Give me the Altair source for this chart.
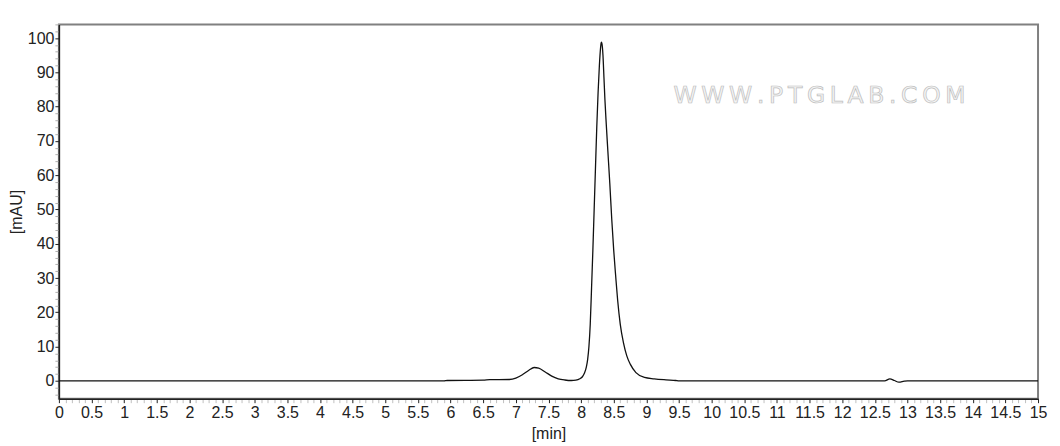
import altair as alt
import pandas as pd

# Retention time (min) and absorbance (mAU)
time_min = [0.0, 2.0, 4.0, 5.9, 5.95, 6.5, 6.6, 6.9, 7.0, 7.1, 7.2, 7.28, 7.35, 7.45,
            7.55, 7.65, 7.75, 7.85, 7.92, 7.98, 8.02, 8.05, 8.08, 8.1, 8.12, 8.14,
            8.16, 8.18, 8.2, 8.22, 8.24, 8.26, 8.28, 8.3, 8.31, 8.32, 8.335, 8.35,
            8.365, 8.385, 8.41, 8.44, 8.47, 8.5, 8.53, 8.56, 8.6, 8.65, 8.7, 8.755,
            8.84, 8.97, 9.12, 9.3, 9.45, 9.5, 11.0, 12.65, 12.73, 12.8, 12.87, 12.95,
            13.0, 14.0, 15.0]
absorb_mau = [0.0, 0.0, 0.0, 0.0, 0.1, 0.2, 0.35, 0.4, 0.8, 1.8, 3.1, 3.9, 3.7, 2.6,
              1.4, 0.6, 0.25, 0.1, 0.2, 0.6, 1.2, 2.2, 4.0, 6.2, 10.0, 16.5,
              27.0, 38.0, 50.0, 62.0, 74.0, 84.0, 92.0, 97.5, 98.8, 98.3, 95.0, 88.5,
              82.0, 75.0, 67.0, 57.5, 47.0, 38.0, 30.5, 23.5, 16.5, 11.0, 7.3, 4.8,
              2.4, 1.0, 0.6, 0.3, 0.1, 0.0, 0.0, 0.0, 0.6, 0.1, -0.4, -0.1,
              0.0, 0.0, 0.0]

x_ticks = [round(i * 0.1, 1) for i in range(0, 151)]
y_ticks = list(range(-4, 105, 2))
x_title = "[min]"
y_title = "[mAU]"
watermark = "WWW.PTGLAB.COM"

df = pd.DataFrame({"t": time_min, "v": absorb_mau})
FONT = "Liberation Sans"

x_axis = alt.Axis(
    values=x_ticks,
    labelExpr="abs(datum.value*2 - round(datum.value*2)) < 0.001 ? format(datum.value, '~g') : ''",
    tickColor={"condition": {"test": "abs(datum.value*2 - round(datum.value*2)) < 0.001", "value": "#222222"}, "value": "#c0c0c0"},
    tickSize=4, tickWidth=1, labelPadding=2,
    labelFont=FONT, labelFontSize=16, labelColor="#222222",
    titleFont=FONT, titleFontSize=16, titleFontWeight="normal", titleColor="#222222",
    titlePadding=5, domainColor="#222222", domainWidth=1.5, grid=False,
    labelOverlap=False, labelFlush=False, labelBound=False,
)
y_axis = alt.Axis(
    values=y_ticks,
    labelExpr="datum.value % 10 == 0 && datum.value >= 0 && datum.value <= 100 ? format(datum.value, 'd') : ''",
    tickColor={"condition": {"test": "datum.value % 10 == 0", "value": "#222222"}, "value": "#b0b0b0"},
    tickSize=4, tickWidth=1, labelPadding=1,
    labelFont=FONT, labelFontSize=16, labelColor="#222222",
    titleFont=FONT, titleFontSize=16, titleFontWeight="normal", titleColor="#222222",
    titlePadding=3, domainColor="#222222", domainWidth=1.5, grid=False,
    labelOverlap=False, labelFlush=False, labelBound=False,
)

line = alt.Chart(df).mark_line(
    color="#111111", strokeWidth=1.3, interpolate="monotone", clip=True
).encode(
    x=alt.X("t:Q", title=x_title, scale=alt.Scale(domain=[0, 15], nice=False, zero=False), axis=x_axis),
    y=alt.Y("v:Q", title=y_title, scale=alt.Scale(domain=[-5.2, 104], nice=False, zero=False), axis=y_axis),
)

wm = alt.Chart(pd.DataFrame({"w": ["\u2009".join(watermark)]})).mark_text(
    font="DejaVu Sans", fontSize=23.5, fill="#f4f4f4", stroke="#bdbdbd", strokeWidth=0.7,
    align="center", baseline="middle",
).encode(text="w:N", x=alt.value(762), y=alt.value(72))

chart = alt.layer(wm, line).properties(
    width=981, height=375,
    background="white",
    autosize=alt.AutoSizeParams(type="none"),
    padding={"left": 51, "top": 16, "right": 14, "bottom": 50},
).configure_view(stroke="#808080", strokeWidth=2)

chart.save("out.html", embed_options={"renderer": "svg", "actions": False})
